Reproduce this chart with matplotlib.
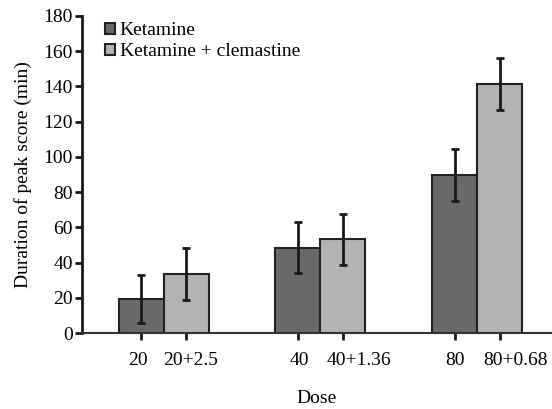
import matplotlib
matplotlib.use("Agg")
import matplotlib.pyplot as plt
import matplotlib.transforms as mtransforms
import numpy as np

doses = ["20", "40", "80"]
tick_labels = ["20", "20+2.5", "40", "40+1.36", "80", "80+0.68"]
ketamine = [19.5, 48.5, 89.5]
ketamine_err = [13.7, 14.5, 14.7]
combo = [33.5, 53.2, 141.5]
combo_err = [15.0, 14.6, 14.8]
series_names = ["Ketamine", "Ketamine + clemastine"]

# horizontal nudges of tick labels (pixels), as laid out in the original
label_shift_px = [-3, 4, 1, 16, 0, 16]

plt.rcParams['font.family'] = ['Liberation Serif', 'DejaVu Serif']

fig = plt.figure(figsize=(5.52, 4.09), dpi=100)
ax = fig.add_axes([82/552, 1-333/409, 1-82/552, (333-16)/409])

x = np.arange(len(doses))
w = 0.287
ekw = dict(elinewidth=2, capthick=2, ecolor='#1a1a1a')
ax.bar(x - w/2, ketamine, w, yerr=ketamine_err, capsize=2.8, color='#696969',
       edgecolor='#222222', linewidth=1.5, label=series_names[0], error_kw=ekw)
ax.bar(x + w/2, combo, w, yerr=combo_err, capsize=2.8, color='#b3b3b3',
       edgecolor='#222222', linewidth=1.5, label=series_names[1], error_kw=ekw)

ax.set_xlim(-0.522, 2.478)
ax.set_ylim(0, 180)
ax.set_yticks(np.arange(0, 181, 20))
pos = np.ravel(np.column_stack([x - w/2, x + w/2]))
ax.set_xticks(pos)
ax.set_xticklabels(tick_labels)
ax.tick_params(axis='both', labelsize=14, direction='out', width=2, length=5, color='#1a1a1a')
ax.tick_params(axis='x', pad=9)
ax.tick_params(axis='y', pad=1.5)
for lab, dx in zip(ax.get_xticklabels(), label_shift_px):
    lab.set_transform(lab.get_transform() + mtransforms.ScaledTranslation(dx / 100, 0, fig.dpi_scale_trans))
for s in ['top', 'right']:
    ax.spines[s].set_visible(False)
ax.spines['left'].set_linewidth(2)
ax.spines['left'].set_color('#1a1a1a')
ax.spines['bottom'].set_linewidth(1.5)
ax.spines['bottom'].set_color('#333333')

ax.set_xlabel("Dose", fontsize=14, labelpad=15)
ax.set_ylabel("Duration of peak score (min)", fontsize=14, labelpad=8)

leg = ax.legend(loc='upper left', bbox_to_anchor=(0.049, 0.98), frameon=False,
                fontsize=14, handlelength=0.5, handleheight=0.5, handletextpad=0.25,
                labelspacing=0.2, borderaxespad=0, borderpad=0)

fig.savefig("out.png", dpi=100)
